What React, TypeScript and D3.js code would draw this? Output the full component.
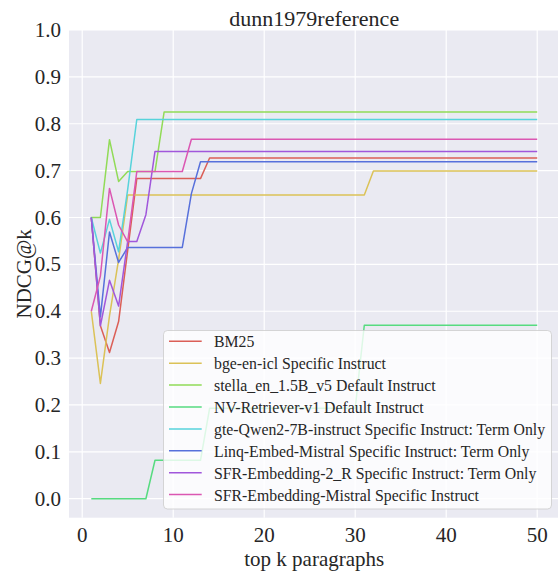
import React from 'react';
import * as d3 from 'd3';

// top k paragraphs: 1..50
const ks: number[] = [
  1, 2, 3, 4, 5, 6, 7, 8, 9, 10,
  11, 12, 13, 14, 15, 16, 17, 18, 19, 20,
  21, 22, 23, 24, 25, 26, 27, 28, 29, 30,
  31, 32, 33, 34, 35, 36, 37, 38, 39, 40,
  41, 42, 43, 44, 45, 46, 47, 48, 49, 50,
];

const bm25 = [
  0.600, 0.369, 0.312, 0.378, 0.530, 0.683, 0.683, 0.683, 0.683, 0.683,
  0.683, 0.683, 0.683, 0.727, 0.727, 0.727, 0.727, 0.727, 0.727, 0.727,
  0.727, 0.727, 0.727, 0.727, 0.727, 0.727, 0.727, 0.727, 0.727, 0.727,
  0.727, 0.727, 0.727, 0.727, 0.727, 0.727, 0.727, 0.727, 0.727, 0.727,
  0.727, 0.727, 0.727, 0.727, 0.727, 0.727, 0.727, 0.727, 0.727, 0.727,
];

const bgeIcl = [
  0.400, 0.246, 0.390, 0.510, 0.648, 0.648, 0.648, 0.648, 0.648, 0.648,
  0.648, 0.648, 0.648, 0.648, 0.648, 0.648, 0.648, 0.648, 0.648, 0.648,
  0.648, 0.648, 0.648, 0.648, 0.648, 0.648, 0.648, 0.648, 0.648, 0.648,
  0.648, 0.699, 0.699, 0.699, 0.699, 0.699, 0.699, 0.699, 0.699, 0.699,
  0.699, 0.699, 0.699, 0.699, 0.699, 0.699, 0.699, 0.699, 0.699, 0.699,
];

const stella = [
  0.600, 0.600, 0.766, 0.677, 0.698, 0.698, 0.698, 0.698, 0.825, 0.825,
  0.825, 0.825, 0.825, 0.825, 0.825, 0.825, 0.825, 0.825, 0.825, 0.825,
  0.825, 0.825, 0.825, 0.825, 0.825, 0.825, 0.825, 0.825, 0.825, 0.825,
  0.825, 0.825, 0.825, 0.825, 0.825, 0.825, 0.825, 0.825, 0.825, 0.825,
  0.825, 0.825, 0.825, 0.825, 0.825, 0.825, 0.825, 0.825, 0.825, 0.825,
];

const nvRetriever = [
  0.000, 0.000, 0.000, 0.000, 0.000, 0.000, 0.000, 0.082, 0.082, 0.082,
  0.082, 0.082, 0.082, 0.193, 0.193, 0.193, 0.193, 0.193, 0.193, 0.193,
  0.193, 0.193, 0.193, 0.193, 0.193, 0.193, 0.193, 0.193, 0.193, 0.193,
  0.370, 0.370, 0.370, 0.370, 0.370, 0.370, 0.370, 0.370, 0.370, 0.370,
  0.370, 0.370, 0.370, 0.370, 0.370, 0.370, 0.370, 0.370, 0.370, 0.370,
];

const gteQwen = [
  0.600, 0.524, 0.596, 0.527, 0.660, 0.809, 0.809, 0.809, 0.809, 0.809,
  0.809, 0.809, 0.809, 0.809, 0.809, 0.809, 0.809, 0.809, 0.809, 0.809,
  0.809, 0.809, 0.809, 0.809, 0.809, 0.809, 0.809, 0.809, 0.809, 0.809,
  0.809, 0.809, 0.809, 0.809, 0.809, 0.809, 0.809, 0.809, 0.809, 0.809,
  0.809, 0.809, 0.809, 0.809, 0.809, 0.809, 0.809, 0.809, 0.809, 0.809,
];

const linq = [
  0.600, 0.388, 0.569, 0.504, 0.536, 0.536, 0.536, 0.536, 0.536, 0.536,
  0.536, 0.651, 0.719, 0.719, 0.719, 0.719, 0.719, 0.719, 0.719, 0.719,
  0.719, 0.719, 0.719, 0.719, 0.719, 0.719, 0.719, 0.719, 0.719, 0.719,
  0.719, 0.719, 0.719, 0.719, 0.719, 0.719, 0.719, 0.719, 0.719, 0.719,
  0.719, 0.719, 0.719, 0.719, 0.719, 0.719, 0.719, 0.719, 0.719, 0.719,
];

const sfr2R = [
  0.600, 0.369, 0.466, 0.411, 0.549, 0.549, 0.606, 0.741, 0.741, 0.741,
  0.741, 0.741, 0.741, 0.741, 0.741, 0.741, 0.741, 0.741, 0.741, 0.741,
  0.741, 0.741, 0.741, 0.741, 0.741, 0.741, 0.741, 0.741, 0.741, 0.741,
  0.741, 0.741, 0.741, 0.741, 0.741, 0.741, 0.741, 0.741, 0.741, 0.741,
  0.741, 0.741, 0.741, 0.741, 0.741, 0.741, 0.741, 0.741, 0.741, 0.741,
];

const sfrMistral = [
  0.400, 0.475, 0.662, 0.584, 0.548, 0.698, 0.698, 0.698, 0.698, 0.698,
  0.698, 0.767, 0.767, 0.767, 0.767, 0.767, 0.767, 0.767, 0.767, 0.767,
  0.767, 0.767, 0.767, 0.767, 0.767, 0.767, 0.767, 0.767, 0.767, 0.767,
  0.767, 0.767, 0.767, 0.767, 0.767, 0.767, 0.767, 0.767, 0.767, 0.767,
  0.767, 0.767, 0.767, 0.767, 0.767, 0.767, 0.767, 0.767, 0.767, 0.767,
];

const seriesNames = [
  'BM25',
  'bge-en-icl Specific Instruct',
  'stella_en_1.5B_v5 Default Instruct',
  'NV-Retriever-v1 Default Instruct',
  'gte-Qwen2-7B-instruct Specific Instruct: Term Only',
  'Linq-Embed-Mistral Specific Instruct: Term Only',
  'SFR-Embedding-2_R Specific Instruct: Term Only',
  'SFR-Embedding-Mistral Specific Instruct',
];
const seriesValues = [bm25, bgeIcl, stella, nvRetriever, gteQwen, linq, sfr2R, sfrMistral];
const colors = ['#db5f57', '#dbc257', '#91db57', '#57db80', '#57d3db', '#5770db', '#a157db', '#db57b2'];

const xTicks = [0, 10, 20, 30, 40, 50];
const yTicks = [0.0, 0.1, 0.2, 0.3, 0.4, 0.5, 0.6, 0.7, 0.8, 0.9, 1.0];

const FONT = '"Liberation Serif", "Times New Roman", serif';

export default function App() {
  const W = 558;
  const H = 574;
  const plot = { left: 69, top: 30, right: 559.5, bottom: 517.7 };

  const x = d3.scaleLinear().domain([-1.45, 52.45]).range([plot.left, plot.right]);
  const y = d3.scaleLinear().domain([-0.0405, 1.0]).range([plot.bottom, plot.top]);

  const line = d3
    .line<number>()
    .x((_, i) => x(ks[i]))
    .y(d => y(d));

  const legend = { x: 163.5, y: 330.5, w: 388, h: 178.5, rowH: 21.9 };

  return (
    <svg
      width={W}
      height={H}
      style={{ position: 'absolute', left: 0, top: 0, background: '#fff' }}
      fontFamily={FONT}
    >
      <rect x={plot.left} y={plot.top} width={plot.right - plot.left} height={plot.bottom - plot.top} fill="#eaeaf2" />

      {/* grid */}
      {xTicks.map(t => (
        <line key={'gx' + t} x1={x(t)} x2={x(t)} y1={plot.top} y2={plot.bottom} stroke="#fff" strokeWidth={1.2} />
      ))}
      {yTicks.map(t => (
        <line key={'gy' + t} x1={plot.left} x2={plot.right} y1={y(t)} y2={y(t)} stroke="#fff" strokeWidth={1.2} />
      ))}

      {/* lines */}
      <g clipPath="url(#plotclip)">
        {seriesValues.map((vals, i) => (
          <path key={seriesNames[i]} d={line(vals) || ''} fill="none" stroke={colors[i]} strokeWidth={1.5} strokeLinejoin="round" />
        ))}
      </g>
      <defs>
        <clipPath id="plotclip">
          <rect x={plot.left} y={plot.top} width={plot.right - plot.left} height={plot.bottom - plot.top} />
        </clipPath>
      </defs>

      {/* tick labels */}
      {xTicks.map(t => (
        <text key={'tx' + t} x={x(t)} y={541.7} textAnchor="middle" fontSize={21} fill="#262626">
          {t}
        </text>
      ))}
      {yTicks.map(t => (
        <text key={'ty' + t} x={61} y={y(t)} dy="0.34em" textAnchor="end" fontSize={21} fill="#262626">
          {t.toFixed(1)}
        </text>
      ))}

      {/* axis labels and title */}
      <text x={(plot.left + plot.right) / 2} y={566} textAnchor="middle" fontSize={21} fill="#262626">
        top k paragraphs
      </text>
      <text
        transform={`translate(31,${(plot.top + plot.bottom) / 2}) rotate(-90)`}
        textAnchor="middle"
        fontSize={21}
        fill="#262626"
      >
        NDCG@k
      </text>
      <text x={(plot.left + plot.right) / 2} y={25.5} textAnchor="middle" fontSize={22} fill="#262626">
        dunn1979reference
      </text>

      {/* legend */}
      <rect
        x={legend.x}
        y={legend.y}
        width={legend.w}
        height={legend.h}
        rx={4}
        fill="#ffffff"
        fillOpacity={0.8}
        stroke="#cccccc"
        strokeOpacity={0.8}
      />
      {seriesNames.map((name, i) => {
        const cy = 341.3 + i * legend.rowH;
        return (
          <g key={'lg' + name}>
            <line x1={169} x2={201.7} y1={cy} y2={cy} stroke={colors[i]} strokeWidth={1.5} />
            <text x={214} y={cy + 6} fontSize={15.8} fill="#262626">
              {name}
            </text>
          </g>
        );
      })}
    </svg>
  );
}
